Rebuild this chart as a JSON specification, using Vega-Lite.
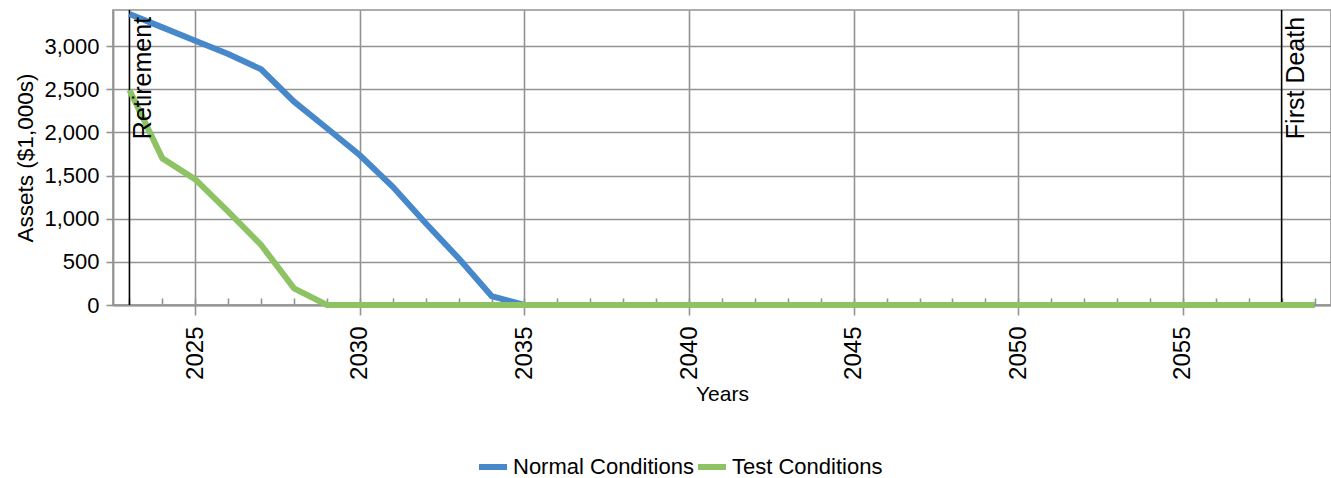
{
  "$schema": "https://vega.github.io/schema/vega-lite/v6.json",
  "autosize": "none",
  "width": 1218,
  "height": 295,
  "padding": {"left": 113, "top": 10, "right": 0, "bottom": 173},
  "config": {
    "font": "Liberation Sans",
    "view": {"stroke": "#939393", "strokeWidth": 1.6},
    "axis": {
      "domainColor": "#939393", "domainWidth": 1.8,
      "tickColor": "#939393", "tickWidth": 1.6,
      "gridColor": "#939393", "gridWidth": 1.6,
      "labelColor": "#000000", "titleColor": "#000000",
      "titleFontWeight": "normal"
    },
    "legend": {"labelColor": "#000000"}
  },
  "datasets": {
    "assets": [
      {"year": 2023, "series": "Normal Conditions", "assets": 3370},
      {"year": 2024, "series": "Normal Conditions", "assets": 3216},
      {"year": 2025, "series": "Normal Conditions", "assets": 3061},
      {"year": 2026, "series": "Normal Conditions", "assets": 2907},
      {"year": 2027, "series": "Normal Conditions", "assets": 2730},
      {"year": 2028, "series": "Normal Conditions", "assets": 2355},
      {"year": 2029, "series": "Normal Conditions", "assets": 2047},
      {"year": 2030, "series": "Normal Conditions", "assets": 1735},
      {"year": 2031, "series": "Normal Conditions", "assets": 1370},
      {"year": 2032, "series": "Normal Conditions", "assets": 946},
      {"year": 2033, "series": "Normal Conditions", "assets": 541},
      {"year": 2034, "series": "Normal Conditions", "assets": 104},
      {"year": 2035, "series": "Normal Conditions", "assets": 0},
      {"year": 2036, "series": "Normal Conditions", "assets": 0},
      {"year": 2037, "series": "Normal Conditions", "assets": 0},
      {"year": 2038, "series": "Normal Conditions", "assets": 0},
      {"year": 2039, "series": "Normal Conditions", "assets": 0},
      {"year": 2040, "series": "Normal Conditions", "assets": 0},
      {"year": 2041, "series": "Normal Conditions", "assets": 0},
      {"year": 2042, "series": "Normal Conditions", "assets": 0},
      {"year": 2043, "series": "Normal Conditions", "assets": 0},
      {"year": 2044, "series": "Normal Conditions", "assets": 0},
      {"year": 2045, "series": "Normal Conditions", "assets": 0},
      {"year": 2046, "series": "Normal Conditions", "assets": 0},
      {"year": 2047, "series": "Normal Conditions", "assets": 0},
      {"year": 2048, "series": "Normal Conditions", "assets": 0},
      {"year": 2049, "series": "Normal Conditions", "assets": 0},
      {"year": 2050, "series": "Normal Conditions", "assets": 0},
      {"year": 2051, "series": "Normal Conditions", "assets": 0},
      {"year": 2052, "series": "Normal Conditions", "assets": 0},
      {"year": 2053, "series": "Normal Conditions", "assets": 0},
      {"year": 2054, "series": "Normal Conditions", "assets": 0},
      {"year": 2055, "series": "Normal Conditions", "assets": 0},
      {"year": 2056, "series": "Normal Conditions", "assets": 0},
      {"year": 2057, "series": "Normal Conditions", "assets": 0},
      {"year": 2058, "series": "Normal Conditions", "assets": 0},
      {"year": 2059, "series": "Normal Conditions", "assets": 0},
      {"year": 2023, "series": "Test Conditions", "assets": 2490},
      {"year": 2024, "series": "Test Conditions", "assets": 1699},
      {"year": 2025, "series": "Test Conditions", "assets": 1455},
      {"year": 2026, "series": "Test Conditions", "assets": 1081},
      {"year": 2027, "series": "Test Conditions", "assets": 695},
      {"year": 2028, "series": "Test Conditions", "assets": 193},
      {"year": 2029, "series": "Test Conditions", "assets": 0},
      {"year": 2030, "series": "Test Conditions", "assets": 0},
      {"year": 2031, "series": "Test Conditions", "assets": 0},
      {"year": 2032, "series": "Test Conditions", "assets": 0},
      {"year": 2033, "series": "Test Conditions", "assets": 0},
      {"year": 2034, "series": "Test Conditions", "assets": 0},
      {"year": 2035, "series": "Test Conditions", "assets": 0},
      {"year": 2036, "series": "Test Conditions", "assets": 0},
      {"year": 2037, "series": "Test Conditions", "assets": 0},
      {"year": 2038, "series": "Test Conditions", "assets": 0},
      {"year": 2039, "series": "Test Conditions", "assets": 0},
      {"year": 2040, "series": "Test Conditions", "assets": 0},
      {"year": 2041, "series": "Test Conditions", "assets": 0},
      {"year": 2042, "series": "Test Conditions", "assets": 0},
      {"year": 2043, "series": "Test Conditions", "assets": 0},
      {"year": 2044, "series": "Test Conditions", "assets": 0},
      {"year": 2045, "series": "Test Conditions", "assets": 0},
      {"year": 2046, "series": "Test Conditions", "assets": 0},
      {"year": 2047, "series": "Test Conditions", "assets": 0},
      {"year": 2048, "series": "Test Conditions", "assets": 0},
      {"year": 2049, "series": "Test Conditions", "assets": 0},
      {"year": 2050, "series": "Test Conditions", "assets": 0},
      {"year": 2051, "series": "Test Conditions", "assets": 0},
      {"year": 2052, "series": "Test Conditions", "assets": 0},
      {"year": 2053, "series": "Test Conditions", "assets": 0},
      {"year": 2054, "series": "Test Conditions", "assets": 0},
      {"year": 2055, "series": "Test Conditions", "assets": 0},
      {"year": 2056, "series": "Test Conditions", "assets": 0},
      {"year": 2057, "series": "Test Conditions", "assets": 0},
      {"year": 2058, "series": "Test Conditions", "assets": 0},
      {"year": 2059, "series": "Test Conditions", "assets": 0}
    ],
    "events": [
      {"year": 2023, "label": "Retirement"},
      {"year": 2058, "label": "First Death"}
    ]
  },
  "resolve": {"scale": {"x": "shared", "y": "shared"}, "axis": {"x": "independent"}},
  "layer": [
    {
      "data": {"name": "events"},
      "mark": {"type": "rule", "color": "#000000", "strokeWidth": 1.6},
      "encoding": {
        "x": {
          "field": "year", "type": "quantitative",
          "scale": {"domain": [2022.5, 2059.5], "nice": false, "zero": false},
          "axis": {
            "orient": "bottom",
            "values": [2023, 2024, 2025, 2026, 2027, 2028, 2029, 2030, 2031, 2032, 2033, 2034, 2035, 2036, 2037, 2038, 2039, 2040, 2041, 2042, 2043, 2044, 2045, 2046, 2047, 2048, 2049, 2050, 2051, 2052, 2053, 2054, 2055, 2056, 2057, 2058, 2059],
            "tickSize": -7, "labels": false, "domain": false, "grid": false, "title": null
          }
        }
      }
    },
    {
      "data": {"name": "assets"},
      "mark": {"type": "line", "strokeWidth": 6, "strokeJoin": "miter", "strokeCap": "butt"},
      "encoding": {
        "x": {
          "field": "year", "type": "quantitative",
          "scale": {"domain": [2022.5, 2059.5], "nice": false, "zero": false},
          "axis": {
            "orient": "bottom",
            "values": [2025, 2030, 2035, 2040, 2045, 2050, 2055],
            "format": "d",
            "grid": true, "tickSize": 10,
            "labelAngle": -90, "labelFontSize": 24, "labelPadding": 11,
            "title": "Years", "titleFontSize": 21, "titlePadding": 4
          }
        },
        "y": {
          "field": "assets", "type": "quantitative",
          "scale": {"domain": [0, 3417], "nice": false},
          "axis": {
            "values": [0, 500, 1000, 1500, 2000, 2500, 3000],
            "format": ",d",
            "grid": true, "tickSize": 7, "labelPadding": 7,
            "labelFontSize": 22,
            "title": "Assets ($1,000s)", "titleFontSize": 22.5, "titlePadding": 6
          }
        },
        "color": {
          "field": "series", "type": "nominal",
          "scale": {"domain": ["Normal Conditions", "Test Conditions"], "range": ["#4688c9", "#8dc363"]},
          "legend": {
            "title": null, "orient": "none", "direction": "horizontal",
            "legendX": 363, "legendY": 440,
            "symbolType": "stroke", "symbolSize": 784, "symbolStrokeWidth": 6,
            "labelFontSize": 22, "labelOffset": 3, "columnPadding": -8, "labelLimit": 400
          }
        }
      }
    },
    {
      "data": {"name": "events"},
      "mark": {"type": "text", "angle": -90, "align": "right", "baseline": "top", "fontSize": 25, "color": "#000000", "dy": 2, "dx": -5},
      "encoding": {
        "x": {"field": "year", "type": "quantitative", "scale": {"domain": [2022.5, 2059.5], "nice": false, "zero": false}, "axis": null},
        "y": {"datum": 3395, "type": "quantitative"},
        "text": {"field": "label"}
      }
    }
  ]
}
